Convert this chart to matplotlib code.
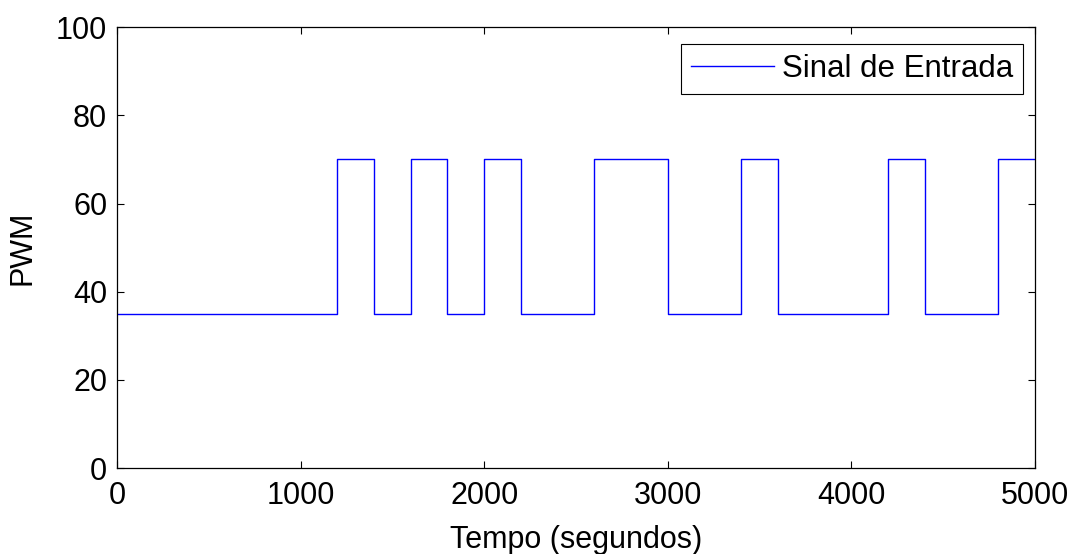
import matplotlib
matplotlib.use("Agg")
import matplotlib.pyplot as plt

# step input signal (PWM) -- change instants and level held after each
tempo = [0, 1200, 1400, 1600, 1800, 2000, 2200, 2600, 3000, 3400, 3600, 4200, 4400, 4800, 5000]
pwm = [35, 70, 35, 70, 35, 70, 35, 70, 35, 70, 35, 70, 35, 70, 70]

x_ticks = [0, 1000, 2000, 3000, 4000, 5000]
y_ticks = [0, 20, 40, 60, 80, 100]

plt.rcParams["font.family"] = ["Liberation Sans", "DejaVu Sans"]
FS = 22

fig = plt.figure(figsize=(10.73, 5.54), dpi=100)
ax = fig.add_axes([0.109, 0.155, 0.8555, 0.796])

ax.step(tempo, pwm, where="post", color="#0000ff", linewidth=1.0,
        label="Sinal de Entrada")

ax.set_xlim(0, 5000)
ax.set_ylim(0, 100)
ax.set_xticks(x_ticks)
ax.set_yticks(y_ticks)
ax.tick_params(direction="in", length=5, width=0.8, top=True, right=True,
               labelsize=FS)
ax.tick_params(axis="x", pad=9)
ax.tick_params(axis="y", pad=7)
for sp in ax.spines.values():
    sp.set_linewidth(0.9)

ax.set_xlabel("Tempo (segundos)", fontsize=FS, labelpad=10)
ax.set_ylabel("PWM", fontsize=FS, labelpad=13)

leg = ax.legend(loc="upper right", bbox_to_anchor=(0.987, 0.962), fontsize=22.5,
                fancybox=False, edgecolor="black", framealpha=1,
                handlelength=2.65, handletextpad=0.25, borderpad=0.32,
                borderaxespad=0)
leg.get_frame().set_linewidth(0.8)

fig.savefig("out.png", dpi=100)
